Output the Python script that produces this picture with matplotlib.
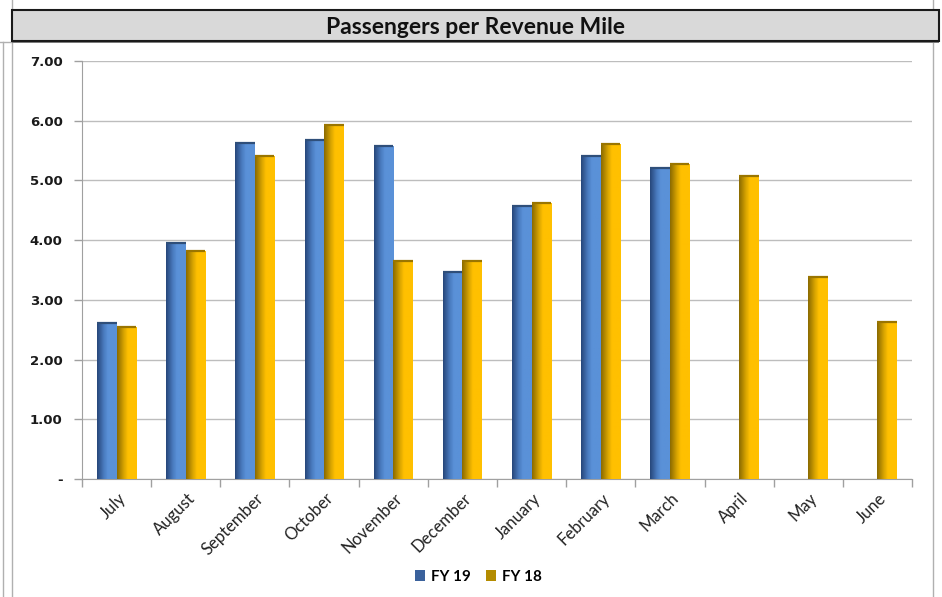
import numpy as np
import matplotlib
matplotlib.use("Agg")
import matplotlib.pyplot as plt
from matplotlib.patches import Rectangle, Patch
from matplotlib.lines import Line2D
from matplotlib.colors import LinearSegmentedColormap
from matplotlib.transforms import ScaledTranslation

# ---- data ----
months = ["July", "August", "September", "October", "November", "December",
          "January", "February", "March", "April", "May", "June"]
fy19 = [2.61, 3.95, 5.62, 5.67, 5.57, 3.46, 4.57, 5.41, 5.20, None, None, None]
fy18 = [2.54, 3.82, 5.41, 5.92, 3.65, 3.65, 4.62, 5.61, 5.27, 5.08, 3.38, 2.63]
yticks = [0, 1, 2, 3, 4, 5, 6, 7]
ytick_labels = ["-", "1.00", "2.00", "3.00", "4.00", "5.00", "6.00", "7.00"]
series_names = ["FY 19", "FY 18"]
title = "Passengers per Revenue Mile"

W, H = 942, 597
fig = plt.figure(figsize=(W / 100, H / 100), dpi=100)
fig.patch.set_facecolor("white")
plt.rcParams['font.family'] = ['Lato', 'DejaVu Sans']

ax = fig.add_axes([82 / W, 1 - 479 / H, (912 - 82) / W, (479 - 61) / H])

x = np.arange(len(months))
bw = 0.283

def grad_img(dark, mid, light):
    cm = LinearSegmentedColormap.from_list(
        "g", [(0.0, dark), (0.35, mid), (0.55, light), (1.0, light)])
    return cm(np.linspace(0, 1, 64)[None, :])

blue_img = grad_img("#27467a", "#4a7cc0", "#5a91d8")
gold_img = grad_img("#8a6a00", "#d9a500", "#ffc000")

def draw_series(vals, offset, img, cap):
    xs = [xi + offset for xi, v in zip(x, vals) if v is not None]
    hs = [v for v in vals if v is not None]
    bars = ax.bar(xs, hs, width=bw, color="none", edgecolor="none", zorder=3)
    for b in bars:
        bx, by = b.get_x(), b.get_y()
        w, h = b.get_width(), b.get_height()
        im = ax.imshow(img, extent=(bx, bx + w, by, by + h), aspect="auto",
                       zorder=3, interpolation="bilinear")
        im.set_clip_path(b)
        ax.plot([bx, bx + w], [by + h, by + h], color=cap, lw=1.6,
                zorder=4, solid_capstyle="butt")

draw_series(fy19, -bw / 2, blue_img, "#2f4f7a")
draw_series(fy18, bw / 2, gold_img, "#9a7500")

ax.set_xlim(-0.5, len(months) - 0.5)
ax.set_ylim(0, 7)
ax.set_yticks(yticks)
ax.set_yticklabels(ytick_labels, fontsize=9.5, fontweight="bold", color="#1a1a1a",
                   family="DejaVu Sans")
ax.yaxis.grid(True, color="#bdbdbd", lw=1, zorder=0)
ax.set_axisbelow(True)

ax.set_xticks(x)
ax.set_xticklabels(months, rotation=45, ha="right", rotation_mode="anchor",
                   fontsize=12, color="#222222")
ax.tick_params(axis="x", length=0, pad=8)
offset = ScaledTranslation(1 / 100, 0, fig.dpi_scale_trans)
for lbl in ax.get_xticklabels():
    lbl.set_transform(lbl.get_transform() + offset)
ax.set_xticks(np.arange(-0.5, len(months) + 0.5, 1), minor=True)
ax.tick_params(axis="x", which="minor", length=6, color="#a0a0a0", width=1)
ax.tick_params(axis="y", length=6, color="#a0a0a0", width=1, pad=8)

for s in ["top", "right"]:
    ax.spines[s].set_visible(False)
ax.spines["left"].set_color("#a0a0a0")
ax.spines["bottom"].set_color("#a0a0a0")

# legend
handles = [Patch(facecolor="#3b629c", edgecolor="none"),
           Patch(facecolor="#b48c00", edgecolor="none")]
fig.legend(handles, series_names, loc="center", bbox_to_anchor=(478 / W, 1 - 577 / H),
           ncol=2, frameon=False, handlelength=0.7, handleheight=0.7,
           handletextpad=0.35, columnspacing=1.0,
           prop={"weight": "bold", "size": 11})

# frame lines
for xx, y0, y1 in [(3, 42, 597), (12, 0, 10), (12, 42, 597), (933, 0, 597)]:
    fig.add_artist(Line2D([xx / W, xx / W], [1 - y0 / H, 1 - y1 / H],
                          color="#b0b0b0", lw=1, transform=fig.transFigure))
fig.add_artist(Line2D([0, 12 / W], [1 - 42 / H, 1 - 42 / H], color="#b0b0b0",
                      lw=1, transform=fig.transFigure))

# title band
fig.add_artist(Rectangle((12 / W, 1 - 43 / H), 927 / W, 3 / H, transform=fig.transFigure,
                         facecolor="#808080", edgecolor="none", zorder=5))
fig.add_artist(Rectangle((12 / W, 1 - 41 / H), 927 / W, 31 / H, transform=fig.transFigure,
                         facecolor="#d9d9d9", edgecolor="#1a1a1a", lw=1.5, zorder=6))
fig.text(476 / W, 1 - 27 / H, title, ha="center", va="center", fontsize=16.5,
         fontweight="bold", color="#111111", zorder=7)

fig.savefig("out.png", dpi=100)
